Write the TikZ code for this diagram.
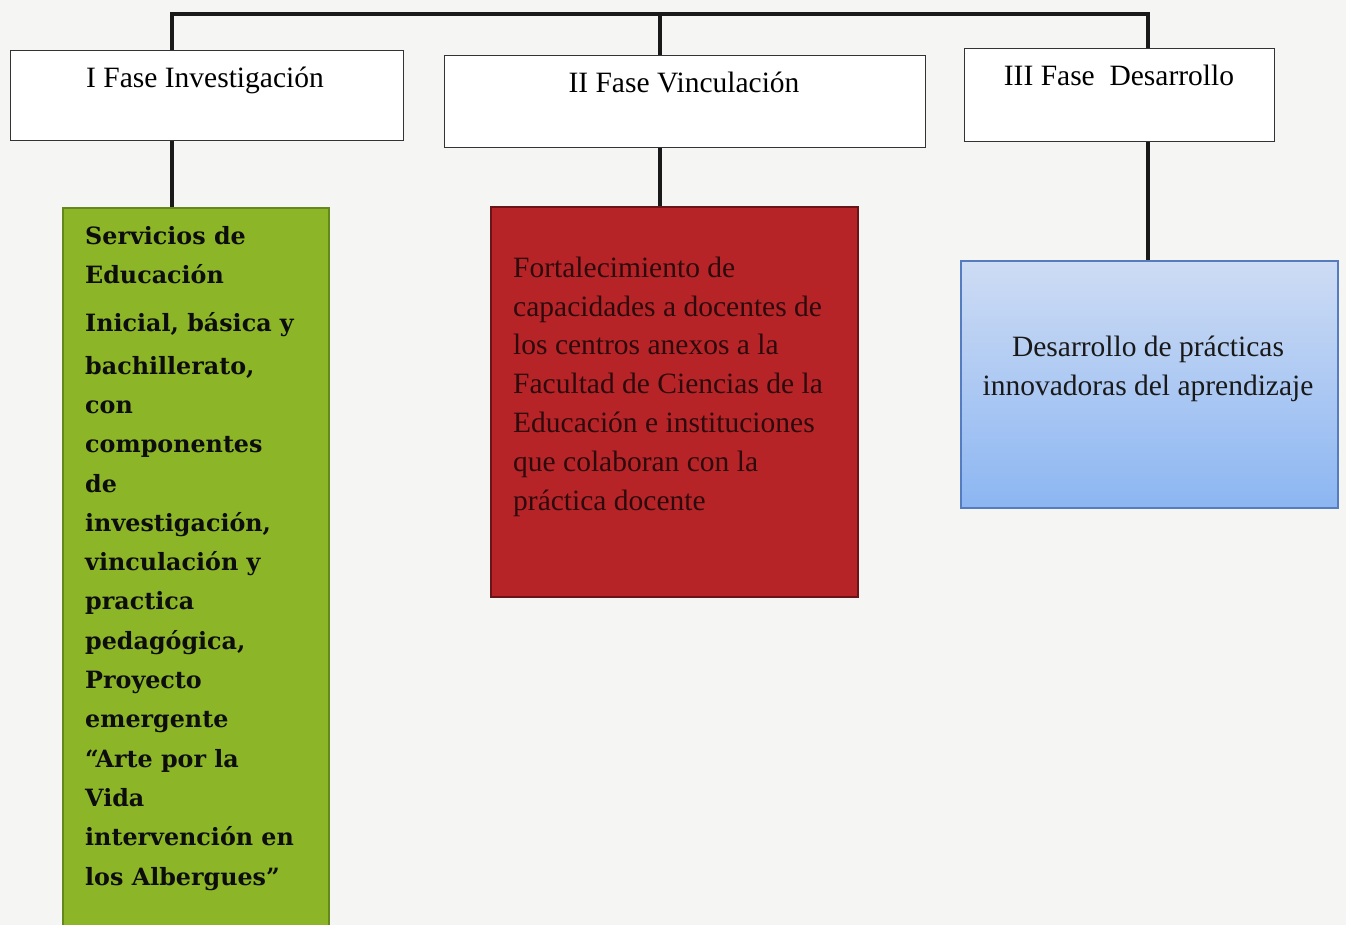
\documentclass[tikz,border=0pt]{standalone}
\usepackage{fontspec}
\setmainfont{Liberation Serif}
\newfontfamily\greenfont{DejaVu Serif}
\definecolor{bgc}{RGB}{245,245,244}
\definecolor{greenfill}{RGB}{140,182,40}
\definecolor{greenline}{RGB}{100,136,28}
\definecolor{redfill}{RGB}{182,36,40}
\definecolor{redline}{RGB}{105,20,22}
\definecolor{redtext}{RGB}{45,10,12}
\definecolor{bluetop}{RGB}{206,220,244}
\definecolor{bluebot}{RGB}{140,182,242}
\definecolor{blueline}{RGB}{84,124,190}
\begin{document}
\begin{tikzpicture}[x=1pt,y=-1pt,
  hdr/.style={draw=black!80, line width=1.4pt, fill=white, inner sep=0pt, anchor=north west},
  hdrtext/.style={inner sep=0pt, anchor=base, font=\fontsize{29.5}{36}\selectfont},
  boxg/.style={draw=greenline, line width=2pt, fill=greenfill, inner sep=0pt, anchor=north west},
  boxr/.style={draw=redline, line width=2pt, fill=redfill, inner sep=0pt, anchor=north west},
  boxb/.style={draw=blueline, line width=1.6pt, top color=bluetop, bottom color=bluebot, inner sep=0pt, anchor=north west},
  conn/.style={line width=4pt, black!90, line join=miter},
  gtext/.style={inner sep=0pt, anchor=base west, align=left, text=black!95, font={\greenfont\bfseries\fontsize{23.8}{39.3}\selectfont}},
  rtext/.style={inner sep=0pt, anchor=base west, align=left, text=redtext, font={\fontsize{29.5}{38.8}\selectfont}},
  btext/.style={inner sep=0pt, anchor=base, align=center, text=black!90, font={\fontsize{29.5}{38.2}\selectfont}}
]
\fill[bgc] (0,0) rectangle (1346,925);
\useasboundingbox (0,0) rectangle (1346,925);
\clip (0,0) rectangle (1346,925);

% header boxes
\node[hdr, minimum width=393pt, minimum height=90pt] (h1) at (10,50) {};
\node[hdr, minimum width=481pt, minimum height=92pt] (h2) at (444,55) {};
\node[hdr, minimum width=310pt, minimum height=93pt] (h3) at (964,48) {};
\node[hdrtext] (t1) at (205,88) {I Fase Investigación};
\node[hdrtext] (t2) at (684,93) {II Fase Vinculación};
\node[hdrtext] (t3) at (1119,86) {III Fase\ \ Desarrollo};

% content boxes
\node[boxg, minimum width=266pt, minimum height=740pt] (g) at (62,207) {};
\node[boxr, minimum width=367pt, minimum height=390pt] (r) at (490,206) {};
\node[boxb, minimum width=377pt, minimum height=247pt] (b) at (960,260) {};

% multi-line texts: base anchor = baseline of last line
\node[gtext] (gt) at (85,885) {Servicios de\\Educación\\[8.6pt]Inicial, básica y\\[3pt]bachillerato,\\con\\componentes\\de\\investigación,\\vinculación y\\practica\\pedagógica,\\Proyecto\\emergente\\“Arte por la\\Vida\\intervención en\\los Albergues”};
\node[rtext] (rt) at (513,510) {Fortalecimiento de\\capacidades a docentes de\\los centros anexos a la\\Facultad de Ciencias de la\\Educación e instituciones\\que colaboran con la\\práctica docente};
\node[btext] (bt) at (1148,395) {Desarrollo de prácticas\\innovadoras del aprendizaje};

% connectors
\coordinate (bl) at (172,14);
\coordinate (bm) at (660,14);
\coordinate (br) at (1148,14);
\draw[conn] (bl |- h1.north) -- (bl) -- (br) -- (br |- h3.north);
\draw[conn] (bm) -- (bm |- h2.north);
\draw[conn] (bl |- h1.south) -- (bl |- g.north);
\draw[conn] (bm |- h2.south) -- (bm |- r.north);
\draw[conn] (br |- h3.south) -- (br |- b.north);
\end{tikzpicture}
\end{document}
